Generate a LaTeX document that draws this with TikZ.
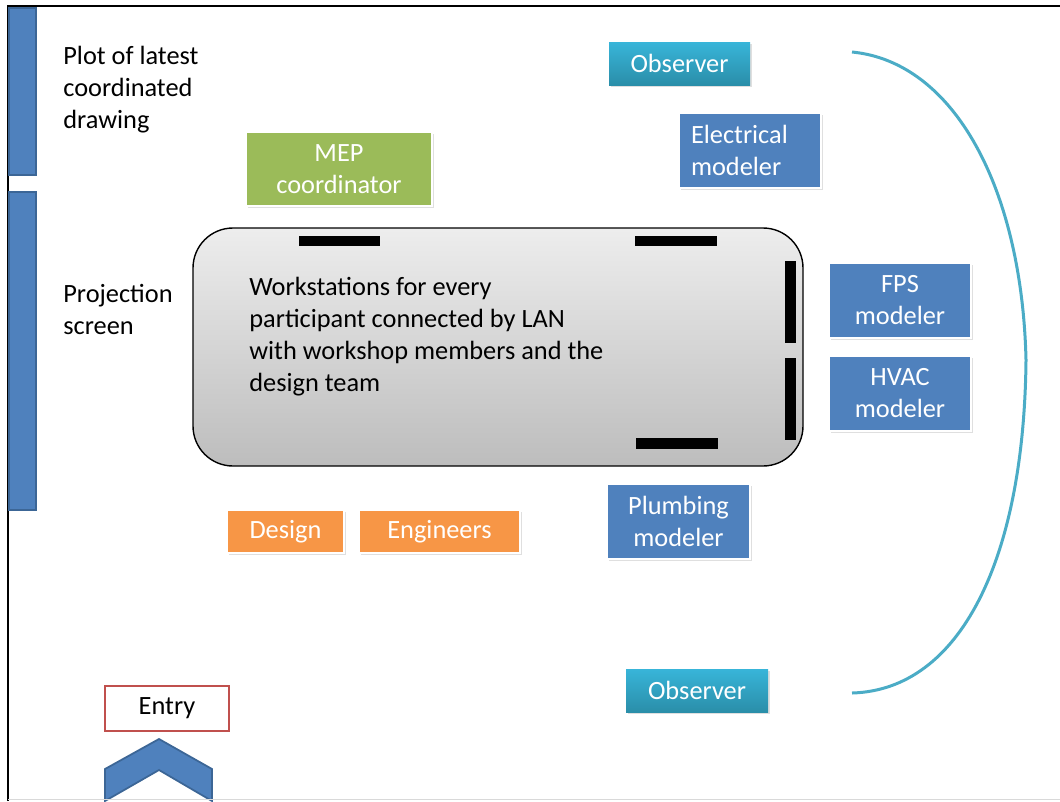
\documentclass[tikz,border=0pt]{standalone}
\usepackage{fontspec}
\setmainfont{Carlito}
\usetikzlibrary{shadows}
\definecolor{screenblue}{HTML}{4F81BD}
\definecolor{screenedge}{HTML}{3C6696}
\definecolor{mepgreen}{HTML}{9BBB59}
\definecolor{teamorange}{HTML}{F79646}
\definecolor{entryred}{HTML}{C0504D}
\definecolor{obstop}{HTML}{38B5D9}
\definecolor{obsbot}{HTML}{2A8EA9}
\definecolor{arcteal}{HTML}{4BACC6}
\newcommand\pxl{0.02cm}

\begin{document}
\begin{tikzpicture}[x=0.02cm, y=-0.02cm,
        every node/.style={font=\fontsize{15}{18.2}\selectfont},
        card/.style={draw=white, line width=1.6pt, inner sep=0pt, text=white, align=center,
            drop shadow={shadow xshift=1pt, shadow yshift=-1.2pt, opacity=0.25}},
        modeler/.style={card, fill=screenblue, minimum width=142*\pxl, minimum height=75*\pxl},
        team/.style={card, fill=teamorange, minimum height=43*\pxl},
        observer/.style={card, draw=none, top color=obstop, bottom color=obsbot,
            minimum width=142*\pxl, minimum height=43*\pxl},
        screen/.style={fill=screenblue, draw=screenedge, line width=1pt},
        seat/.style={fill=black}]
        \useasboundingbox (0, 0) rectangle (1060, 801);

        % room walls
        \draw [line width=1.6pt] (8, 801) -- (8, 6) -- (1060, 6);

        % screens on the left wall
        \draw [screen] (9, 8) rectangle (36, 175);
        \draw [screen] (9, 192) rectangle (36, 510);
        \node (plotlabel) [anchor=north west, inner sep=0pt, align=left] at (63, 46)
            {Plot of latest\\coordinated\\drawing};
        \node (projlabel) [anchor=north west, inner sep=0pt, align=left] at (63, 284)
            {Projection\\screen};

        % the table
        \node (desk) [draw=black, line width=0.8pt, rounded corners=0.8cm,
            top color=black!7, bottom color=black!26,
            minimum width=610*\pxl, minimum height=238*\pxl] at (498, 347) {};
        \fill [seat] (299, 236) rectangle (380, 246);
        \fill [seat] (635, 236) rectangle (717, 246);
        \fill [seat] (636, 438) rectangle (718, 449);
        \fill [seat] (785, 261) rectangle (796, 343);
        \fill [seat] (785, 358) rectangle (796, 440);
        \node (desktext) [anchor=north west, inner sep=0pt, align=left] at (249, 277)
            {Workstations for every\\participant connected by LAN\\with workshop members and the\\design team};

        % participants
        \node (mep) [card, fill=mepgreen, minimum width=186*\pxl, minimum height=74*\pxl]
            at (339, 169) {MEP\\coordinator};
        \node (elec) [modeler, align=left, inner xsep=12*\pxl, text width=118*\pxl]
            at (750, 150.5) {Electrical\\modeler};
        \node (fps) [modeler] at (900, 300.5) {FPS\\modeler};
        \node (hvac) [modeler] at (900, 393.5) {HVAC\\modeler};
        \node (plumb) [modeler, minimum width=143*\pxl] at (678.5, 521.5) {Plumbing\\modeler};
        \node (design) [team, minimum width=117*\pxl] at (285.5, 531.5) {Design};
        \node (engineers) [team, minimum width=161*\pxl] at (439.5, 531.5) {Engineers};
        \node (obstopnode) [observer, minimum width=141*\pxl] at (679.5, 63.5) {Observer};
        \node (obsbotnode) [observer] at (697, 690.5) {Observer};

        % observers' gallery
        \coordinate (arcstart) at (852, 52);
        \coordinate (arcmid) at (1026, 360);
        \coordinate (arcend) at (852, 693);
        \draw [arcteal, line width=3*\pxl]
            (arcstart) .. controls (955, 62) and (1022, 190) .. (arcmid)
            .. controls (1024, 560) and (960, 690) .. (arcend);

        % entry
        \node (entry) [draw=entryred, line width=1.5pt, fill=white, inner sep=0pt,
            minimum width=124*\pxl, minimum height=45*\pxl] at (167, 708.5) {Entry};
        \draw [screen] (105, 769) -- (159, 739) -- (212, 769) -- (212, 801)
            -- (159, 770) -- (105, 801) -- cycle;
        \draw [black!15, line width=1pt] (8, 799.5) -- (1060, 799.5);
    \end{tikzpicture}
\end{document}
